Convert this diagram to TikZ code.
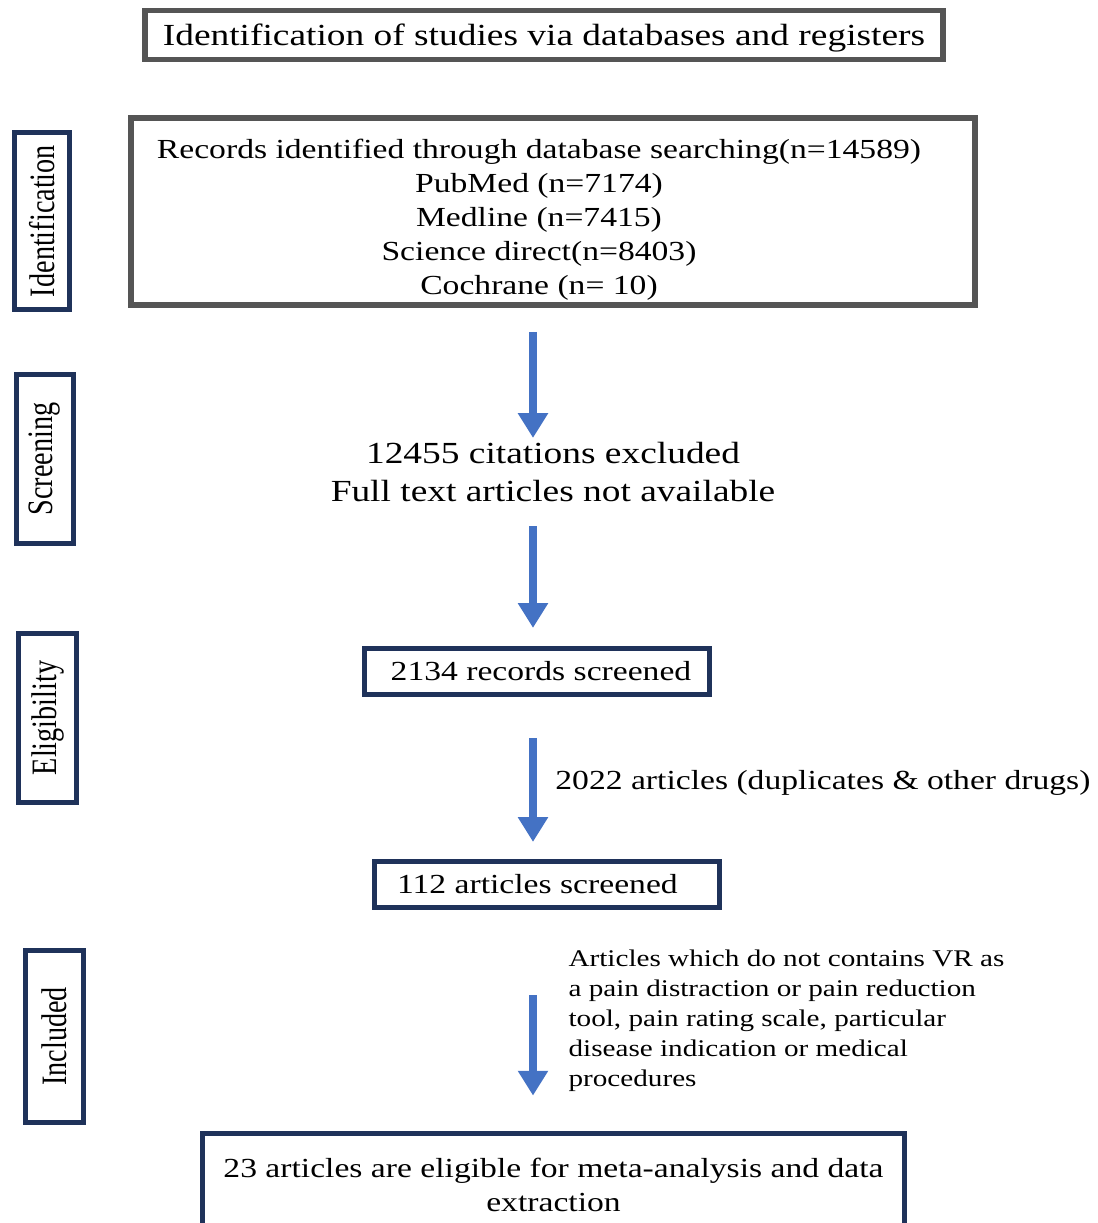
\documentclass[tikz,border=0pt]{standalone}
\usepackage{fontspec}
\setmainfont{Liberation Serif}[FakeStretch=1.22]
\newfontfamily\sidefont{Liberation Serif}[FakeStretch=0.79]
\usetikzlibrary{arrows.meta,positioning}
\definecolor{boxgray}{RGB}{85,85,85}
\definecolor{navy}{RGB}{31,50,90}
\definecolor{flowblue}{RGB}{68,114,196}
\newcommand{\bigtxt}{\fontsize{21.8pt}{27pt}\selectfont}
\newcommand{\midtxt}{\fontsize{19.6pt}{24.2pt}\selectfont}
\newcommand{\smalltxt}{\fontsize{17pt}{21.3pt}\selectfont}
\newcommand{\sidetxt}{\sidefont\fontsize{25.4pt}{30pt}\selectfont}

\begin{document}
\begin{tikzpicture}[
      x=0.025cm,y=-0.025cm,
      graybox/.style={draw=boxgray,line width=1.4mm,inner sep=0pt},
      navybox/.style={draw=navy,line width=1.3mm,inner sep=0pt,font=\midtxt},
      sidebox/.style={navybox,rotate=90,font=\sidetxt},
      txt/.style={inner sep=0pt,align=center},
      arr/.style={-{Triangle[length=6.2mm,width=7.2mm]},line width=2.2mm,draw=flowblue,fill=flowblue}
    ]
    \useasboundingbox (0,0) rectangle (1098,1223);
    % header and search results
    \node[graybox,minimum width=19.93cm,minimum height=1.225cm,text depth=0pt,font=\bigtxt] (title) at (544,35) {Identification of studies via databases and registers};
    \node[graybox,minimum width=21.1cm,minimum height=4.675cm] (records) at (553,211.5) {};
    \node[txt,font=\midtxt] (recordsTxt) at (539,220) {Records identified through database searching(n=14589)\\PubMed (n=7174)\\Medline (n=7415)\\Science direct(n=8403)\\Cochrane (n= 10)};
    % phase labels
    \node[sidebox,minimum width=4.425cm,minimum height=1.375cm] (identSide) at (42,221) {Identification};
    \node[sidebox,minimum width=4.225cm,minimum height=1.425cm] (screenSide) at (45,459) {Screening};
    \node[sidebox,minimum width=4.225cm,minimum height=1.45cm] (eligSide) at (47.5,718) {Eligibility};
    \node[sidebox,minimum width=4.3cm,minimum height=1.45cm] (inclSide) at (54.5,1036.5) {Included};
    % flow
    \node[txt,font=\bigtxt] (excl) at (553,472) {12455 citations excluded\\Full text articles not available};
    \node[navybox,minimum width=8.625cm,minimum height=1.15cm] (screened) at (537,671.5) {\hspace{0.2cm}2134 records screened};
    \node[navybox,minimum width=8.625cm,minimum height=1.15cm] (articles) at (547,884.5) {\hspace{-0.48cm}112 articles screened};
    \node[navybox,minimum width=17.55cm,minimum height=2.59cm,align=center] (eligible) at (553.5,1185) {23 articles are eligible for meta-analysis and data\\extraction};
    \coordinate (col) at (533,0);
    \draw[arr,shorten <=0.6cm,shorten >=0.1cm] (records.south -| col) -- (excl.north -| col);
    \draw[arr,shorten <=0.6cm,shorten >=0.45cm] (excl.south -| col) -- (screened.north -| col);
    \draw[arr,shorten <=1.025cm,shorten >=0.425cm] (screened.south -| col) -- node[pos=0.53,right=0.45cm,inner sep=0pt,font=\midtxt,text=black] (dupl) {2022 articles (duplicates \& other drugs)} (articles.north -| col);
    \draw[arr,shorten <=2.125cm,shorten >=0.875cm] (articles.south -| col) -- node[pos=0.5,right=0.78cm,txt,align=left,font=\smalltxt,text=black] (notVR) {Articles which do not contains VR as\\a pain distraction or pain reduction\\tool, pain rating scale, particular\\disease indication or medical\\procedures} (eligible.north -| col);
  \end{tikzpicture}
\end{document}
